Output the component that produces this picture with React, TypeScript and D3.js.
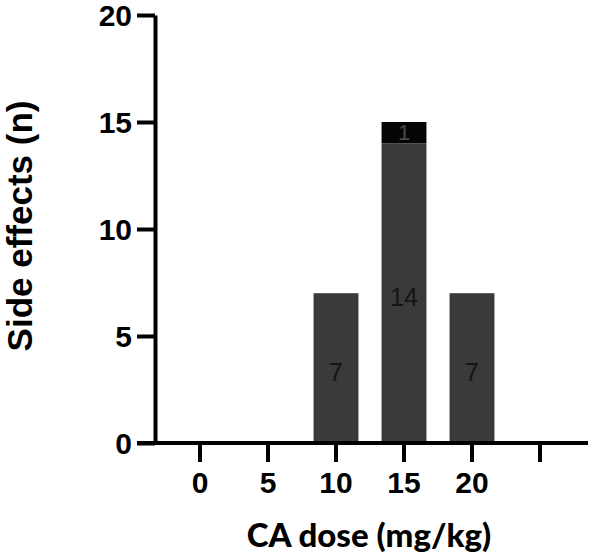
import React, { useRef, useEffect } from 'react';
import * as d3 from 'd3';

// Doses on the x axis (last slot is an empty tick, as in the original figure)
const doses: string[] = ['0', '5', '10', '15', '20', ''];
// Side effects per dose, lower (grey) and upper (black) segments
const lowerCounts: number[] = [0, 0, 7, 14, 7, 0];
const upperCounts: number[] = [0, 0, 0, 1, 0, 0];
const yTicks: number[] = [0, 5, 10, 15, 20];

const width = 591;
const height = 560;

const App: React.FC = () => {
  const svgRef = useRef<SVGSVGElement>(null);

  useEffect(() => {
    if (!svgRef.current) return;
    const svg = d3.select(svgRef.current);
    svg.selectAll('*').remove();

    const left = 155;
    const bottom = 443;
    const top = 15;

    const x = d3.scaleBand<string>()
      .domain(doses)
      .range([166, 574])
      .paddingInner(0.34)
      .paddingOuter(0.17);

    const y = d3.scaleLinear().domain([0, 20]).range([bottom, top]);

    const boldFont = 'Liberation Sans, Arial, sans-serif';

    // Bars: lower segment + upper segment
    const bars = svg.append('g');
    doses.forEach((d, i) => {
      const lo = lowerCounts[i];
      const hi = upperCounts[i];
      if (lo > 0) {
        bars.append('rect')
          .attr('x', x(d) as number)
          .attr('width', x.bandwidth())
          .attr('y', y(lo))
          .attr('height', y(0) - y(lo))
          .attr('fill', '#3a3a3a');
        bars.append('text')
          .attr('x', (x(d) as number) + x.bandwidth() / 2)
          .attr('y', (y(0) + y(lo)) / 2 + 4)
          .attr('text-anchor', 'middle')
          .attr('dominant-baseline', 'central')
          .style('font-family', boldFont)
          .style('font-size', '25px')
          .style('fill', '#141414')
          .text(String(lo));
      }
      if (hi > 0) {
        bars.append('rect')
          .attr('x', x(d) as number)
          .attr('width', x.bandwidth())
          .attr('y', y(lo + hi))
          .attr('height', y(lo) - y(lo + hi))
          .attr('fill', '#050505');
        bars.append('text')
          .attr('x', (x(d) as number) + x.bandwidth() / 2)
          .attr('y', (y(lo) + y(lo + hi)) / 2)
          .attr('text-anchor', 'middle')
          .attr('dominant-baseline', 'central')
          .style('font-family', boldFont)
          .style('font-size', '22px')
          .style('fill', '#4a4a4a')
          .text(String(hi));
      }
    });

    // Y axis
    const yAxis = svg.append('g')
      .attr('transform', `translate(${left},0)`)
      .call(d3.axisLeft(y).tickValues(yTicks).tickSize(18).tickSizeOuter(0).tickPadding(5));
    yAxis.select('.domain').attr('stroke', '#000').attr('stroke-width', 4);
    yAxis.selectAll('.tick line').attr('stroke', '#000').attr('stroke-width', 4);
    yAxis.selectAll('.tick text')
      .attr('dy', '0.36em')
      .style('font-family', boldFont)
      .style('font-weight', 'bold')
      .style('font-size', '30px')
      .style('fill', '#000');

    // X axis
    const xAxis = svg.append('g')
      .attr('transform', `translate(0,${bottom})`)
      .call(d3.axisBottom(x).tickSize(19).tickSizeOuter(0).tickPadding(10));
    xAxis.select('.domain').remove();
    xAxis.append('line')
      .attr('x1', left - 18)
      .attr('x2', 588)
      .attr('stroke', '#000')
      .attr('stroke-width', 4);
    xAxis.selectAll('.tick line').attr('stroke', '#000').attr('stroke-width', 4);
    xAxis.selectAll('.tick text')
      .style('font-family', boldFont)
      .style('font-weight', 'bold')
      .style('font-size', '30px')
      .style('fill', '#000');

    // Axis titles
    svg.append('text')
      .attr('transform', `translate(32,${(95 + 357) / 2}) rotate(-90)`)
      .attr('text-anchor', 'middle')
      .style('font-family', boldFont)
      .style('font-weight', 'bold')
      .style('font-size', '35px')
      .style('fill', '#000')
      .text('Side effects (n)');

    svg.append('text')
      .attr('x', 369)
      .attr('y', 547)
      .attr('text-anchor', 'middle')
      .style('font-family', 'Lato, "Open Sans", sans-serif')
      .style('font-weight', '900')
      .style('font-size', '33px')
      .style('fill', '#000')
      .text('CA dose (mg/kg)');
  }, []);

  return (
    <svg
      ref={svgRef}
      width={width}
      height={height}
      style={{ position: 'absolute', left: 0, top: 0, background: '#fff' }}
    ></svg>
  );
};

export default App;
